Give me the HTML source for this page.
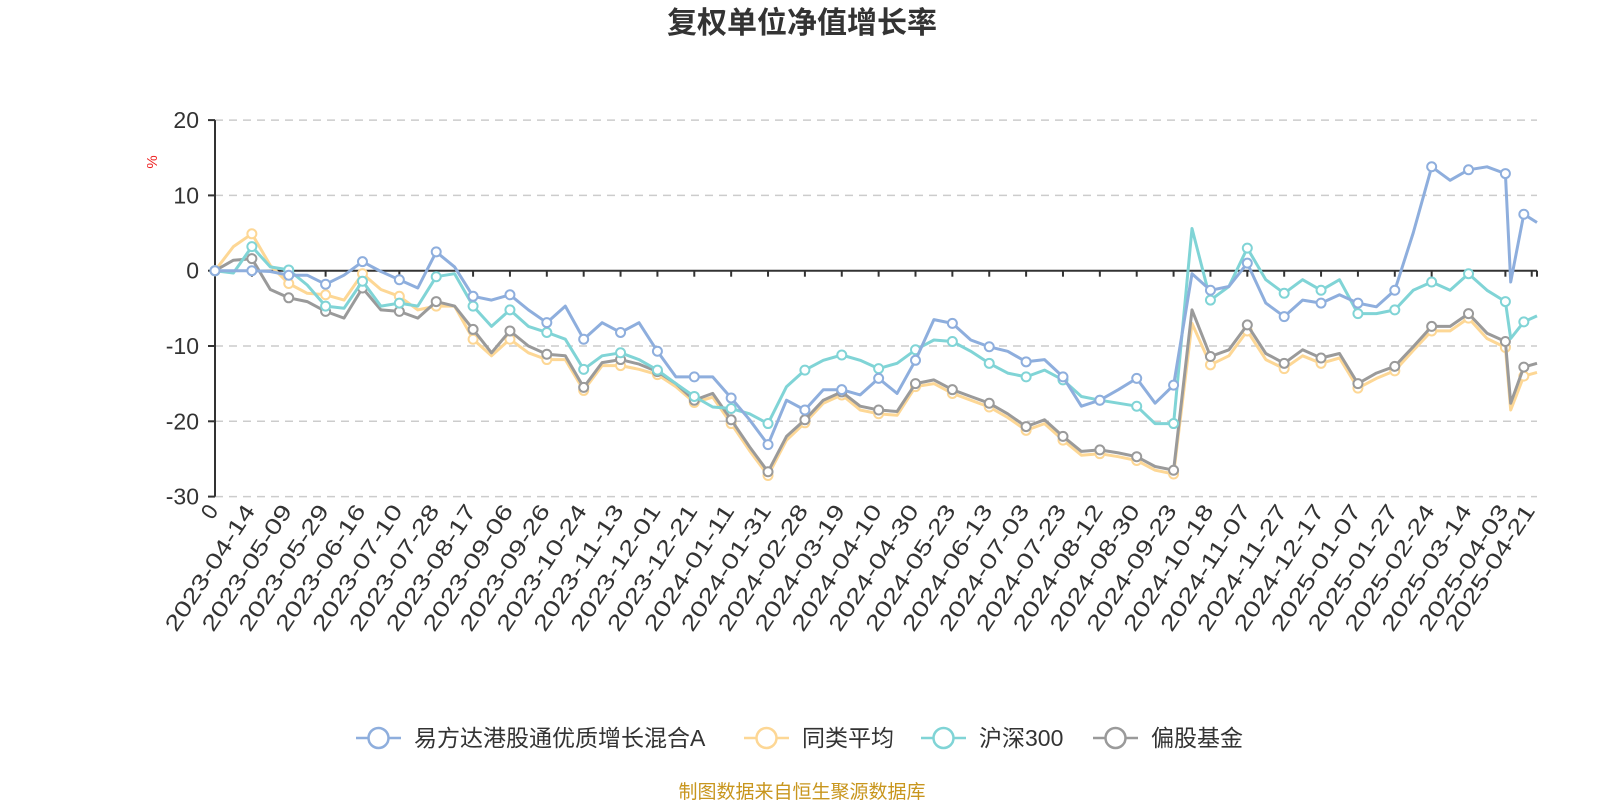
<!DOCTYPE html>
<html><head><meta charset="utf-8"><style>
html,body{margin:0;padding:0;background:#fff;width:1600px;height:800px;overflow:hidden}
svg{display:block;font-family:"Liberation Sans","Noto Sans CJK SC",sans-serif}
</style></head><body>
<svg id="chart" width="1600" height="800" viewBox="0 0 1600 800" xmlns="http://www.w3.org/2000/svg">
<text x="802" y="33" text-anchor="middle" font-size="30" font-weight="bold" fill="#333">复权单位净值增长率</text>
<text x="157" y="162" text-anchor="middle" font-size="15" fill="#e22" transform="rotate(-90 157 162)">%</text>
<g id="grid"></g>
<g id="series"></g>
<g id="legend"></g>
<text x="802" y="798" text-anchor="middle" font-size="19" fill="#c8961e">制图数据来自恒生聚源数据库</text>
</svg>
<script>
const xLabels=["0","2023-04-14","2023-05-09","2023-05-29","2023-06-16","2023-07-10","2023-07-28","2023-08-17","2023-09-06","2023-09-26","2023-10-24","2023-11-13","2023-12-01","2023-12-21","2024-01-11","2024-01-31","2024-02-28","2024-03-19","2024-04-10","2024-04-30","2024-05-23","2024-06-13","2024-07-03","2024-07-23","2024-08-12","2024-08-30","2024-09-23","2024-10-18","2024-11-07","2024-11-27","2024-12-17","2025-01-07","2025-01-27","2025-02-24","2025-03-14","2025-04-03","2025-04-21"];
const xLabelIdx=[0,14,28,42,56,70,84,98,112,126,140,154,168,182,196,210,224,238,252,266,280,294,308,322,336,350,364,378,392,406,420,434,448,462,476,490,500];
const yTicks=[20,10,0,-10,-20,-30];
const sampleIdx=[0,7,14,21,28,35,42,49,56,63,70,77,84,91,98,105,112,119,126,133,140,147,154,161,168,175,182,189,196,203,210,217,224,231,238,245,252,259,266,273,280,287,294,301,308,315,322,329,336,343,350,357,364,371,378,385,392,399,406,413,420,427,434,441,448,455,462,469,476,483,490,492,497,502];
const fundVals=[0,0,0,-0.1,-0.6,-0.6,-1.8,-0.6,1.2,-0.1,-1.2,-2.3,2.5,0.5,-3.4,-3.9,-3.2,-5.2,-6.9,-4.7,-9.1,-6.9,-8.2,-6.9,-10.7,-14.1,-14.1,-14.1,-16.9,-19.8,-23.1,-17.2,-18.5,-15.8,-15.8,-16.5,-14.3,-16.3,-11.9,-6.5,-7,-9.2,-10.1,-10.7,-12.1,-11.8,-14.1,-18,-17.2,-15.8,-14.3,-17.6,-15.2,-0.4,-2.6,-2.1,1,-4.3,-6.1,-3.9,-4.3,-3.2,-4.3,-4.8,-2.6,5,13.8,12,13.4,13.8,12.9,-1.5,7.5,6.4];
const peerVals=[0,3.2,4.9,0.7,-1.7,-3,-3.2,-3.9,-0.4,-2.5,-3.4,-5.2,-4.7,-4.7,-9.1,-11.3,-9.1,-10.9,-11.8,-11.8,-15.9,-12.6,-12.6,-13.1,-13.8,-15.4,-17.5,-16.8,-20.3,-23.9,-27.2,-22.5,-20.2,-17.6,-16.5,-18.5,-19,-19.2,-15.4,-15,-16.3,-17.2,-18.1,-19.5,-21.2,-20.3,-22.5,-24.5,-24.3,-24.7,-25.2,-26.5,-27,-7,-12.5,-11.3,-8,-11.8,-13,-11.3,-12.3,-11.6,-15.6,-14.3,-13.3,-10.6,-8,-8,-6.3,-9,-10.2,-18.5,-14,-13.5];
const hs300Vals=[0,-0.3,3.2,0.5,0.1,-1.9,-4.7,-5,-1.4,-4.7,-4.3,-4.7,-0.8,-0.4,-4.7,-7.4,-5.2,-7.4,-8.2,-9.1,-13.1,-11.3,-10.9,-11.8,-13.2,-15,-16.7,-18.1,-18.3,-19,-20.3,-15.4,-13.2,-11.9,-11.2,-11.9,-13,-12.3,-10.5,-9.2,-9.4,-10.7,-12.3,-13.6,-14.1,-13.2,-14.5,-16.7,-17.2,-17.6,-18,-20.3,-20.3,5.6,-3.9,-2.1,3,-1.2,-3,-1.2,-2.6,-1.2,-5.7,-5.7,-5.2,-2.6,-1.5,-2.6,-0.4,-2.6,-4.1,-9,-6.8,-6];
const mixVals=[0,1.4,1.6,-2.5,-3.6,-4.1,-5.4,-6.3,-2.3,-5.2,-5.4,-6.3,-4.1,-4.7,-7.8,-10.9,-8,-10,-11.1,-11.3,-15.5,-12.2,-11.8,-12.4,-13.4,-15,-17.2,-16.3,-19.8,-23.4,-26.7,-22,-19.8,-17.2,-16.1,-18,-18.5,-18.7,-15,-14.5,-15.8,-16.7,-17.6,-19,-20.7,-19.8,-22,-24,-23.8,-24.2,-24.7,-26,-26.5,-5.2,-11.4,-10.5,-7.2,-11,-12.3,-10.5,-11.6,-11,-15,-13.6,-12.7,-10.1,-7.4,-7.4,-5.7,-8.3,-9.4,-17.6,-12.8,-12.3];
const seriesNames=["易方达港股通优质增长混合A","同类平均","沪深300","偏股基金"];
const seriesColors=["#8eaedd","#fdd795","#80d4d6","#9a9a9a"];
const seriesData=[fundVals,peerVals,hs300Vals,mixVals];

const NS="http://www.w3.org/2000/svg";
const X0=215,X1=1537,IMAX=502,Y0=270.7,YS=7.53;
const xS=i=>X0+i*(X1-X0)/IMAX;
const yS=v=>Y0-v*YS;
function mk(tag,attrs,parent){const e=document.createElementNS(NS,tag);for(const k in attrs)e.setAttribute(k,attrs[k]);parent.appendChild(e);return e;}
const grid=document.getElementById('grid');
yTicks.forEach(t=>{
  const y=yS(t);
  if(t!==0){const l=mk('line',{x1:X0,x2:X1,y1:y,y2:y,stroke:'#ccc','stroke-width':1.5,'stroke-dasharray':'8,6'},grid);
  
  }
  const tk=mk('line',{x1:X0-7,x2:X0,y1:y,y2:y,stroke:'#333','stroke-width':2},grid);
  
  
  const tx=mk('text',{x:X0-16,y:y+8,'text-anchor':'end','font-size':23,fill:'#333'},grid);
  
  
  tx.textContent=t;
});
const ya=mk('line',{x1:X0,x2:X0,y1:yS(20),y2:yS(-30),stroke:'#333','stroke-width':2},grid);


const xa=mk('line',{x1:X0,x2:X1,y1:Y0,y2:Y0,stroke:'#333','stroke-width':2},grid);


const LY=yS(-30)+14;
xLabels.forEach((lab,k)=>{
  const x=xS(xLabelIdx[k]);
  const tk=mk('line',{x1:x,x2:x,y1:Y0,y2:Y0+6,stroke:'#333','stroke-width':2},grid);
  
  
  const attrs={x:x+4,y:LY,'text-anchor':'end','font-size':22,fill:'#333',transform:`rotate(-57 ${x+4} ${LY})`};
  if(lab.length>2){attrs.textLength=146;attrs.lengthAdjust='spacingAndGlyphs';}
  const tx=mk('text',attrs,grid);
  
  
  tx.textContent=lab;
});
const endTk=mk('line',{x1:X1,x2:X1,y1:Y0,y2:Y0+6,stroke:'#333','stroke-width':2},grid);



const sg=document.getElementById('series');
const drawOrder=[1,3,2,0];
drawOrder.forEach(s=>{
  const vals=seriesData[s];const n=Math.min(vals.length,sampleIdx.length);
  let d='';for(let i=0;i<n;i++)d+=(i?'L':'M')+xS(sampleIdx[i]).toFixed(1)+','+yS(vals[i]).toFixed(1);
  const p=mk('path',{d:d,fill:'none',stroke:seriesColors[s],'stroke-width':3,'stroke-linejoin':'round'},sg);
  
  
  for(let i=0;i<n;i+=2){
    const c=mk('circle',{cx:xS(sampleIdx[i]),cy:yS(vals[i]),r:4.5,fill:'#fff',stroke:seriesColors[s],'stroke-width':2},sg);
    
    
  }
});

const lg=document.getElementById('legend');
const legX=[356,744,921,1093];
seriesNames.forEach((nm,s)=>{
  const g=mk('g',{},lg);
  
  
  const x=legX[s],y=738;
  mk('line',{x1:x,x2:x+45,y1:y,y2:y,stroke:seriesColors[s],'stroke-width':2.5},g);
  mk('circle',{cx:x+22.5,cy:y,r:10,fill:'#fff',stroke:seriesColors[s],'stroke-width':2.5},g);
  const t=mk('text',{x:x+58,y:y+8,'font-size':23,fill:'#333'},g);
  t.textContent=nm;
});
</script>
</body></html>
